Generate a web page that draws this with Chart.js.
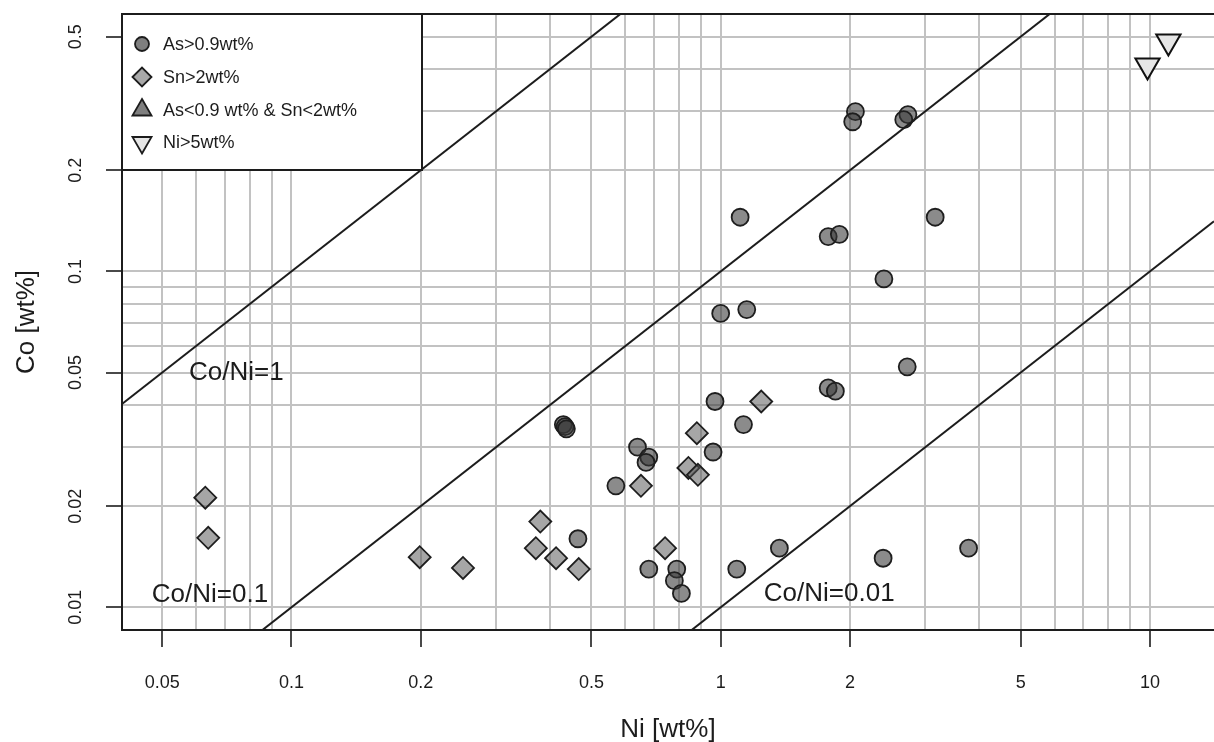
<!DOCTYPE html>
<html><head><meta charset="utf-8">
<script src="https://cdn.jsdelivr.net/npm/chart.js@4.4.1/dist/chart.umd.min.js"></script>
<style>html,body{margin:0;padding:0;background:#fff;overflow:hidden}canvas{display:block}</style>
</head><body>
<canvas id="c" width="1214" height="742"></canvas>
<script>
// ---- data ----
const asNi = [2.06, 2.03, 2.73, 2.67, 3.16, 1.11, 1.78, 1.89, 2.40, 1.00, 1.15, 2.72, 1.78, 1.85, 0.97, 0.43, 0.434, 0.437, 1.13, 0.64, 0.68, 0.67, 0.96, 0.57, 0.465, 0.68, 0.79, 0.78, 0.81, 1.09, 1.37, 2.39, 3.78];
const asCo = [0.299, 0.279, 0.293, 0.283, 0.145, 0.145, 0.127, 0.129, 0.095, 0.075, 0.077, 0.052, 0.045, 0.044, 0.041, 0.035, 0.0345, 0.034, 0.035, 0.030, 0.028, 0.027, 0.029, 0.023, 0.016, 0.013, 0.013, 0.012, 0.011, 0.013, 0.015, 0.014, 0.015];
const snNi = [0.063, 0.064, 0.199, 0.251, 0.371, 0.380, 0.4135, 0.467, 0.652, 0.742, 0.841, 0.885, 0.880, 1.243];
const snCo = [0.0212, 0.0161, 0.0141, 0.0131, 0.0150, 0.0180, 0.0140, 0.0130, 0.0230, 0.0150, 0.0260, 0.0248, 0.0330, 0.041];
const lowNi = [];
const lowCo = [];
const niNi = [9.87, 11.04];
const niCo = [0.410, 0.484];
const ratios = [1, 0.1, 0.01];
const ratioLabels = ['Co/Ni=1', 'Co/Ni=0.1', 'Co/Ni=0.01'];
const ratioLabelNi = [0.0744, 0.0646, 1.79];
const ratioLabelCo = [0.0499, 0.0109, 0.01095];
const legendLabels = ['As>0.9wt%', 'Sn>2wt%', 'As<0.9 wt% & Sn<2wt%', 'Ni>5wt%'];
const xGrid = [0.05, 0.06, 0.07, 0.08, 0.09, 0.1, 0.2, 0.3, 0.4, 0.5, 0.6, 0.7, 0.8, 0.9, 1, 2, 3, 4, 5, 6, 7, 8, 9, 10];
const xTickVals = [0.05, 0.1, 0.2, 0.5, 1, 2, 5, 10];
const xTickLabels = ['0.05', '0.1', '0.2', '0.5', '1', '2', '5', '10'];
const yGrid = [0.01, 0.02, 0.03, 0.04, 0.05, 0.06, 0.07, 0.08, 0.09, 0.1, 0.2, 0.3, 0.4, 0.5];
const yTickVals = [0.01, 0.02, 0.05, 0.1, 0.2, 0.5];
const yTickLabels = ['0.01', '0.02', '0.05', '0.1', '0.2', '0.5'];
const xMin = 0.0403, xMax = 14.1, yMin = 0.00856, yMax = 0.584;

const FONT = "'Liberation Sans', Arial, Helvetica, sans-serif";
const INK = '#1c1c1c';
Chart.defaults.font.family = FONT;
Chart.defaults.color = INK;

const pts = (xs, ys) => xs.map((v, i) => ({x: v, y: ys[i]}));
const lineDatasets = ratios.map(r => ({
  type: 'line', data: [{x: xMin, y: r * xMin}, {x: xMax, y: r * xMax}],
  borderColor: INK, borderWidth: 2, pointRadius: 0, showLine: true, fill: false, order: 0, clip: 0
}));

const annot = {
  id: 'annot',
  afterDatasetsDraw(chart) {
    const {ctx, chartArea: ca, scales: {x, y}} = chart;
    ctx.save();
    // top border
    ctx.strokeStyle = INK; ctx.lineWidth = 2;
    ctx.beginPath(); ctx.moveTo(ca.left - 1, ca.top); ctx.lineTo(ca.right, ca.top); ctx.stroke();
    // ratio labels
    ctx.fillStyle = INK; ctx.font = '26px ' + FONT;
    ctx.textAlign = 'center'; ctx.textBaseline = 'middle';
    ratioLabels.forEach((t, i) => ctx.fillText(t, x.getPixelForValue(ratioLabelNi[i]), y.getPixelForValue(ratioLabelCo[i])));
    // legend box
    const bx = ca.left, by = ca.top, bw = 300, bh = 156;
    ctx.fillStyle = '#fff'; ctx.fillRect(bx, by, bw, bh);
    ctx.strokeStyle = INK; ctx.lineWidth = 2; ctx.strokeRect(bx, by, bw, bh);
    const rows = [30, 63, 96, 128.5];
    const sx = bx + 20;
    ctx.lineWidth = 1.8; ctx.strokeStyle = INK;
    rows.forEach((ry, i) => {
      const cy = by + ry;
      ctx.beginPath();
      if (i === 0) { ctx.arc(sx, cy, 7, 0, Math.PI * 2); ctx.fillStyle = '#7f7f7f'; }
      else if (i === 1) { const r = 9.5; ctx.moveTo(sx - r, cy); ctx.lineTo(sx, cy - r); ctx.lineTo(sx + r, cy); ctx.lineTo(sx, cy + r); ctx.closePath(); ctx.fillStyle = '#a9a9a9'; }
      else if (i === 2) { const r = 11; ctx.moveTo(sx, cy - r); ctx.lineTo(sx + 0.866 * r, cy + r / 2); ctx.lineTo(sx - 0.866 * r, cy + r / 2); ctx.closePath(); ctx.fillStyle = '#7f7f7f'; }
      else { const r = 11; ctx.moveTo(sx, cy + r); ctx.lineTo(sx + 0.866 * r, cy - r / 2); ctx.lineTo(sx - 0.866 * r, cy - r / 2); ctx.closePath(); ctx.fillStyle = '#e6e6e6'; }
      ctx.fill(); ctx.stroke();
      ctx.fillStyle = INK; ctx.font = '18px ' + FONT; ctx.textAlign = 'left'; ctx.textBaseline = 'middle';
      ctx.fillText(legendLabels[i], bx + 41, cy + 1);
    });
    ctx.restore();
  }
};

new Chart(document.getElementById('c'), {
  type: 'scatter',
  data: {
    datasets: [
      ...lineDatasets,
      {label: legendLabels[0], data: pts(asNi, asCo), pointStyle: 'circle', pointRadius: 8.5, pointHoverRadius: 8.5,
       pointBackgroundColor: 'rgba(55,55,55,0.58)', pointBorderColor: '#1e1e1e', pointBorderWidth: 1.8, order: 3},
      {label: legendLabels[1], data: pts(snNi, snCo), pointStyle: 'rectRot', pointRadius: 11, pointHoverRadius: 11,
       pointBackgroundColor: 'rgba(85,85,85,0.52)', pointBorderColor: '#1e1e1e', pointBorderWidth: 1.8, order: 2},
      {label: legendLabels[2], data: pts(lowNi, lowCo), pointStyle: 'triangle', pointRadius: 11,
       pointBackgroundColor: '#7f7f7f', pointBorderColor: '#1e1e1e', pointBorderWidth: 1.8, order: 2},
      {label: legendLabels[3], data: pts(niNi, niCo), pointStyle: 'triangle', pointRotation: 180, pointRadius: 14, pointHoverRadius: 14,
       pointBackgroundColor: '#e6e6e6', pointBorderColor: '#111', pointBorderWidth: 2, order: 1}
    ]
  },
  options: {
    responsive: false, animation: false, devicePixelRatio: 1,
    layout: {autoPadding: false, padding: {left: 0, right: 0, top: 14, bottom: 0}},
    plugins: {legend: {display: false}, tooltip: {enabled: false}},
    events: [],
    scales: {
      x: {
        type: 'logarithmic', min: xMin, max: xMax,
        afterBuildTicks: s => { s.ticks = xGrid.map(v => ({value: v})); },
        afterFit: s => { s.height = 112; s.paddingLeft = 0; s.paddingRight = 0; },
        ticks: {autoSkip: false, maxRotation: 0, minRotation: 0, padding: 25, color: INK, font: {size: 18},
          callback: v => { const i = xTickVals.indexOf(v); return i >= 0 ? xTickLabels[i] : ''; }},
        grid: {color: '#c2c2c2', lineWidth: 2, tickLength: 17, tickWidth: 1.6,
          tickColor: c => (c.tick && xTickVals.includes(c.tick.value)) ? INK : 'rgba(0,0,0,0)'},
        border: {display: true, color: INK, width: 2},
        title: {display: true, text: 'Ni [wt%]', color: INK, font: {size: 26, lineHeight: 0.9}, padding: {top: 0, bottom: 0}}
      },
      y: {
        type: 'logarithmic', min: yMin, max: yMax,
        afterBuildTicks: s => { s.ticks = yGrid.map(v => ({value: v})); },
        afterFit: s => { s.width = 122; s.paddingTop = 0; s.paddingBottom = 0; },
        ticks: {autoSkip: false, minRotation: 90, maxRotation: 90, crossAlign: 'center', padding: 12, color: INK, font: {size: 18},
          callback: v => { const i = yTickVals.indexOf(v); return i >= 0 ? yTickLabels[i] : ''; }},
        grid: {color: '#c2c2c2', lineWidth: 2, tickLength: 16, tickWidth: 1.6,
          tickColor: c => (c.tick && yTickVals.includes(c.tick.value)) ? INK : 'rgba(0,0,0,0)'},
        border: {display: true, color: INK, width: 2},
        title: {display: true, text: 'Co [wt%]', color: INK, font: {size: 26}, padding: {top: 11, bottom: 0}}
      }
    }
  },
  plugins: [annot]
});
</script>
</body></html>
